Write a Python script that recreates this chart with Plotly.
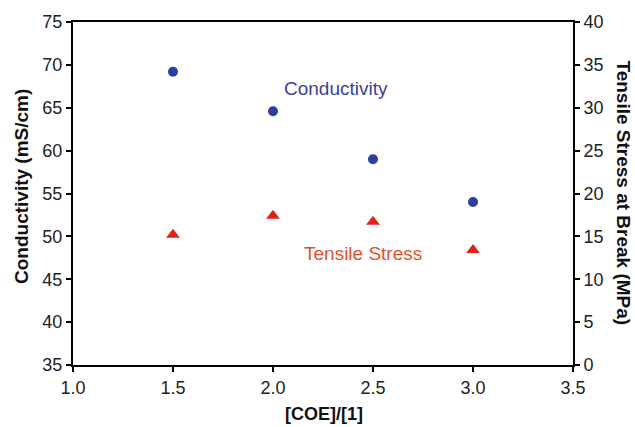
import plotly.graph_objects as go

x_vals = [1.5, 2.0, 2.5, 3.0]
conductivity = [69.2, 64.6, 59.0, 54.0]
tensile_stress = [15.2, 17.4, 16.7, 13.4]

x_ticks = [1.0, 1.5, 2.0, 2.5, 3.0, 3.5]
y_ticks = [35, 40, 45, 50, 55, 60, 65, 70, 75]
y2_ticks = [0, 5, 10, 15, 20, 25, 30, 35, 40]

FONT = "Liberation Sans, Arial, sans-serif"

fig = go.Figure()
fig.add_trace(go.Scatter(x=x_vals, y=conductivity, mode="markers",
                         marker=dict(symbol="circle", size=10, color="#2c3e9e"),
                         name="Conductivity", yaxis="y"))
fig.add_trace(go.Scatter(x=x_vals, y=tensile_stress, mode="markers",
                         marker=dict(symbol="triangle-up", size=12, color="#e0201b"),
                         name="Tensile Stress", yaxis="y2"))

axis_common = dict(showline=True, linecolor="black", linewidth=2, ticks="outside",
                   ticklen=5, tickwidth=1.5, tickcolor="black", showgrid=False,
                   zeroline=False, tickfont=dict(family=FONT, size=18, color="#222"))

fig.update_layout(
    width=635, height=427,
    margin=dict(l=73, r=62, t=22, b=62),
    paper_bgcolor="white", plot_bgcolor="white",
    showlegend=False,
    xaxis=dict(range=[1.0, 3.5], tickvals=x_ticks, ticktext=[f"{v:.1f}" for v in x_ticks],
               mirror=True, **axis_common),
    yaxis=dict(range=[35, 75], tickvals=y_ticks, **axis_common),
    yaxis2=dict(range=[0, 40], tickvals=y2_ticks, overlaying="y", side="right",
                **axis_common),
    annotations=[
        dict(text="<b>[COE]/[1]</b>", x=0.502, y=-0.142, xref="paper", yref="paper",
             showarrow=False, yanchor="middle", font=dict(family=FONT, size=18, color="#111")),
        dict(text="<b>Conductivity (mS/cm)</b>", x=-0.102, y=0.519, xref="paper", yref="paper",
             showarrow=False, textangle=-90, xanchor="center", yanchor="middle",
             font=dict(family=FONT, size=19, color="#111")),
        dict(text="<b>Tensile Stress at Break (MPa)</b>", x=1.102, y=0.503, xref="paper", yref="paper",
             showarrow=False, textangle=90, xanchor="center", yanchor="middle",
             font=dict(family=FONT, size=19, color="#111")),
        dict(text="Conductivity", x=2.3125, y=67.3, xref="x", yref="y", showarrow=False,
             font=dict(family=FONT, size=19, color="#3b3fa0")),
        dict(text="Tensile Stress", x=2.45, y=48.0, xref="x", yref="y", showarrow=False,
             font=dict(family=FONT, size=19, color="#e4502f")),
    ],
)

fig.write_html("out.html")
